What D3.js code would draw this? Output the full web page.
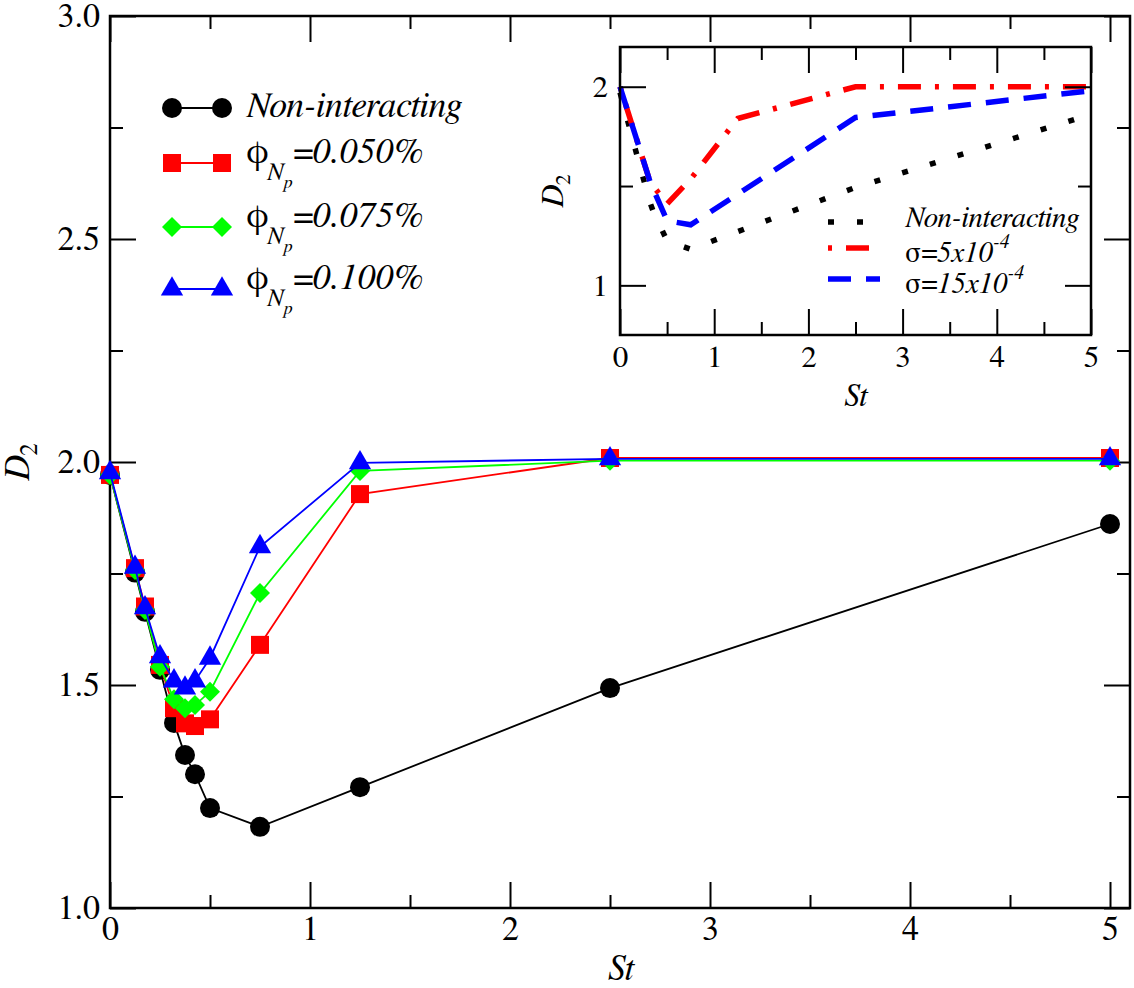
<!DOCTYPE html>
<html lang="en">
<head>
<meta charset="UTF-8">
<title>D2 versus St</title>
<script src="https://d3js.org/d3.v7.min.js"></script>
<style>
  body { margin: 0; background: #fff; }
</style>
</head>
<body>
<div id="chart"></div>
<script>
// ---- data (main panel) ----
const stValues = [0, 0.125, 0.175, 0.25, 0.32, 0.375, 0.425, 0.5, 0.75, 1.25, 2.5, 5];
const nonInteracting = [1.971, 1.752, 1.664, 1.534, 1.415, 1.343, 1.300, 1.224, 1.182, 1.271, 1.493, 1.861];
const phi050 = [1.971, 1.762, 1.676, 1.545, 1.448, 1.414, 1.408, 1.423, 1.590, 1.928, 2.009, 2.009];
const phi075 = [1.971, 1.758, 1.668, 1.541, 1.468, 1.448, 1.455, 1.485, 1.706, 1.980, 2.003, 2.003];
const phi100 = [1.976, 1.764, 1.673, 1.563, 1.509, 1.493, 1.509, 1.560, 1.810, 1.998, 2.007, 2.007];
const mainLabels = ["Non-interacting", "=0.050%", "=0.075%", "=0.100%"];

// ---- data (inset) ----
const stSigma5 = [0, 0.32, 0.5, 0.75, 1.25, 2.5, 5];
const sigma5 = [2.0, 1.52, 1.41, 1.535, 1.84, 2.0, 2.0];
const stSigma15 = [0, 0.32, 0.5, 0.75, 2.5, 5];
const sigma15 = [2.0, 1.52, 1.325, 1.305, 1.845, 1.98];
const insetLabels = ["Non-interacting", "=5x10", "=15x10"];

// ---- ticks ----
const xMajor = [0, 1, 2, 3, 4, 5];
const xMinor = [0.5, 1.5, 2.5, 3.5, 4.5];
const yMajorMain = [1, 1.5, 2, 2.5, 3];
const yMinorMain = [1.25, 1.75, 2.25, 2.75];
const yMajorInset = [1, 2];
const yMinorInset = [1.5];

const width = 1134, height = 988;
const svg = d3.select("#chart").append("svg")
    .attr("width", width).attr("height", height);

// use the first Times-like face that is really installed
const candidates = ["Liberation Serif", "FreeSerif", "Tinos", "Times New Roman", "Noto Serif", "DejaVu Serif"];
function textWidth(fam) {
    const t = svg.append("text").attr("font-size", 40).attr("font-family", fam)
        .text("Non-interacting 0123456789 WMiil");
    const w = t.node().getComputedTextLength();
    t.remove();
    return w;
}
const baseW = textWidth("zzqqnofont");
const found = candidates.filter(f => Math.abs(textWidth(`"${f}"`) - baseW) > 0.5);
const serif = found.length ? `"${found[0]}", serif` : "serif";
svg.attr("font-family", serif);

const zip = (xs, ys) => xs.map((v, i) => ({ st: v, d: ys[i] }));

function drawAxes(g, xs, ys, box, o) {
    const major = 26, minor = 13;
    const ax = [
        [d3.axisBottom(xs).tickValues(o.xMajor).tickSize(-major).tickPadding(o.xPad).tickFormat(o.xFmt), box.bottom, "x"],
        [d3.axisBottom(xs).tickValues(o.xMinor).tickSize(-minor).tickFormat(""), box.bottom, "x"],
        [d3.axisTop(xs).tickValues(o.xMajor).tickSize(-major).tickFormat(""), box.top, "x"],
        [d3.axisTop(xs).tickValues(o.xMinor).tickSize(-minor).tickFormat(""), box.top, "x"],
        [d3.axisLeft(ys).tickValues(o.yMajor).tickSize(-major).tickPadding(o.yPad).tickFormat(o.yFmt), box.left, "y"],
        [d3.axisLeft(ys).tickValues(o.yMinor).tickSize(-minor).tickFormat(""), box.left, "y"],
        [d3.axisRight(ys).tickValues(o.yMajor).tickSize(-major).tickFormat(""), box.right, "y"],
        [d3.axisRight(ys).tickValues(o.yMinor).tickSize(-minor).tickFormat(""), box.right, "y"]
    ];
    ax.forEach(([axis, pos, dir]) => {
        const a = g.append("g")
            .attr("transform", dir === "x" ? `translate(0,${pos})` : `translate(${pos},0)`)
            .call(axis)
            .attr("font-family", serif)
            .attr("font-size", o.fontSize);
        a.select(".domain").remove();
        a.selectAll("line").attr("stroke", "#000").attr("stroke-width", 2);
        a.selectAll("text").attr("fill", "#000");
    });
    g.append("rect")
        .attr("x", box.left).attr("y", box.top)
        .attr("width", box.right - box.left).attr("height", box.bottom - box.top)
        .attr("fill", "none").attr("stroke", "#000").attr("stroke-width", o.frame);
}

// ================= main panel =================
const main = { left: 110, right: 1130, top: 16, bottom: 908 };
const x = d3.scaleLinear().domain([0, 5.1]).range([main.left, main.right]);
const y = d3.scaleLinear().domain([1, 3]).range([main.bottom, main.top]);

const gMain = svg.append("g");
drawAxes(gMain, x, y, main, {
    xMajor, xMinor, yMajor: yMajorMain, yMinor: yMinorMain,
    xFmt: d3.format("d"), yFmt: d3.format(".1f"),
    xPad: 8, yPad: 10, fontSize: 34, frame: 2.5
});

const sym = {
    circle: d3.symbol().type(d3.symbolCircle).size(Math.PI * 100),
    square: d3.symbol().type(d3.symbolSquare).size(324),
    diamond: d3.symbol().type(d3.symbolSquare).size(200),
    triangle: d3.symbol().type(d3.symbolTriangle).size(215)
};

const mainSeries = [
    { values: nonInteracting, color: "#000000", shape: "circle", rot: 0 },
    { values: phi050, color: "#ff0000", shape: "square", rot: 0 },
    { values: phi075, color: "#00ff00", shape: "diamond", rot: 45 },
    { values: phi100, color: "#0000ff", shape: "triangle", rot: 0 }
];

const line = d3.line().x(d => x(d.st)).y(d => y(d.d));
mainSeries.forEach(s => {
    const pts = zip(stValues, s.values);
    gMain.append("path").datum(pts)
        .attr("d", line).attr("fill", "none")
        .attr("stroke", s.color).attr("stroke-width", 1.8);
    gMain.selectAll(null).data(pts).join("path")
        .attr("d", sym[s.shape])
        .attr("transform", d => `translate(${x(d.st)},${y(d.d)}) rotate(${s.rot})`)
        .attr("fill", s.color);
});

// main legend
const legRows = [108, 163, 227, 289];
const legend = gMain.append("g");
mainSeries.forEach((s, i) => {
    const ly = legRows[i];
    legend.append("line")
        .attr("x1", 172).attr("x2", 222).attr("y1", ly).attr("y2", ly)
        .attr("stroke", s.color).attr("stroke-width", 1.8);
    [172, 222].forEach(lx => {
        legend.append("path").attr("d", sym[s.shape])
            .attr("transform", `translate(${lx},${ly}) rotate(${s.rot})`)
            .attr("fill", s.color);
    });
    const t = legend.append("text").attr("x", 246).attr("font-size", 36);
    if (i === 0) {
        t.attr("y", ly + 9).attr("font-style", "italic").text(mainLabels[i]);
    } else {
        t.attr("y", ly);
        t.append("tspan").text("\u03D5");
        t.append("tspan").attr("font-style", "italic").attr("font-size", 25).attr("dy", 17).attr("dx", -2).text("N");
        t.append("tspan").attr("font-style", "italic").attr("font-size", 18).attr("dy", 8).text("p");
        t.append("tspan").attr("font-style", "italic").attr("dy", -25).text(mainLabels[i]);
    }
});

// main axis titles
svg.append("text").attr("x", 621).attr("y", 980).attr("text-anchor", "middle")
    .attr("font-size", 36).attr("font-style", "italic").text("St");
const yt = svg.append("text").attr("transform", "translate(29,462) rotate(-90)")
    .attr("text-anchor", "middle").attr("font-size", 36);
yt.append("tspan").attr("font-style", "italic").text("D");
yt.append("tspan").attr("font-size", 25).attr("dy", 8).text("2");

// ================= inset =================
const inset = { left: 620, right: 1091, top: 47, bottom: 335 };
const xi = d3.scaleLinear().domain([0, 5]).range([inset.left, inset.right]);
const yi = d3.scaleLinear().domain([0.75, 2.2]).range([inset.bottom, inset.top]);

const gIn = svg.append("g");
gIn.append("rect").attr("x", inset.left).attr("y", inset.top)
    .attr("width", inset.right - inset.left).attr("height", inset.bottom - inset.top)
    .attr("fill", "#fff");

const insetSeries = [
    { pts: zip(stValues, nonInteracting), color: "#000000", dash: "6,23" },
    { pts: zip(stSigma5, sigma5), color: "#ff0000", dash: "4,14,23,14" },
    { pts: zip(stSigma15, sigma15), color: "#0000ff", dash: "23,15" }
];
const lineIn = d3.line().x(d => xi(d.st)).y(d => yi(d.d));
insetSeries.forEach(s => {
    gIn.append("path").datum(s.pts)
        .attr("d", lineIn).attr("fill", "none")
        .attr("stroke", s.color).attr("stroke-width", 5.5)
        .attr("stroke-dasharray", s.dash);
});

drawAxes(gIn, xi, yi, inset, {
    xMajor, xMinor, yMajor: yMajorInset, yMinor: yMinorInset,
    xFmt: d3.format("d"), yFmt: d3.format("d"),
    xPad: 10, yPad: 12, fontSize: 31, frame: 2.5
});

// inset legend
const inRows = [222, 248, 279];
const inBase = [227, 262, 293];
insetSeries.forEach((s, i) => {
    gIn.append("line")
        .attr("x1", 828).attr("x2", 880).attr("y1", inRows[i]).attr("y2", inRows[i])
        .attr("stroke", s.color).attr("stroke-width", 5.5)
        .attr("stroke-dasharray", s.dash);
    const t = gIn.append("text").attr("x", 905).attr("y", inBase[i]).attr("font-size", 29);
    if (i === 0) {
        t.attr("font-style", "italic").text(insetLabels[i]);
    } else {
        t.append("tspan").text("\u03C3");
        t.append("tspan").attr("font-style", "italic").text(insetLabels[i]);
        t.append("tspan").attr("font-style", "italic").attr("font-size", 20).attr("dy", -14).text("-4");
    }
});

// inset axis titles
svg.append("text").attr("x", 856).attr("y", 406).attr("text-anchor", "middle")
    .attr("font-size", 32).attr("font-style", "italic").text("St");
const yti = svg.append("text").attr("transform", "translate(563,191) rotate(-90)")
    .attr("text-anchor", "middle").attr("font-size", 32);
yti.append("tspan").attr("font-style", "italic").text("D");
yti.append("tspan").attr("font-size", 22).attr("dy", 7).text("2");
</script>
</body>
</html>
